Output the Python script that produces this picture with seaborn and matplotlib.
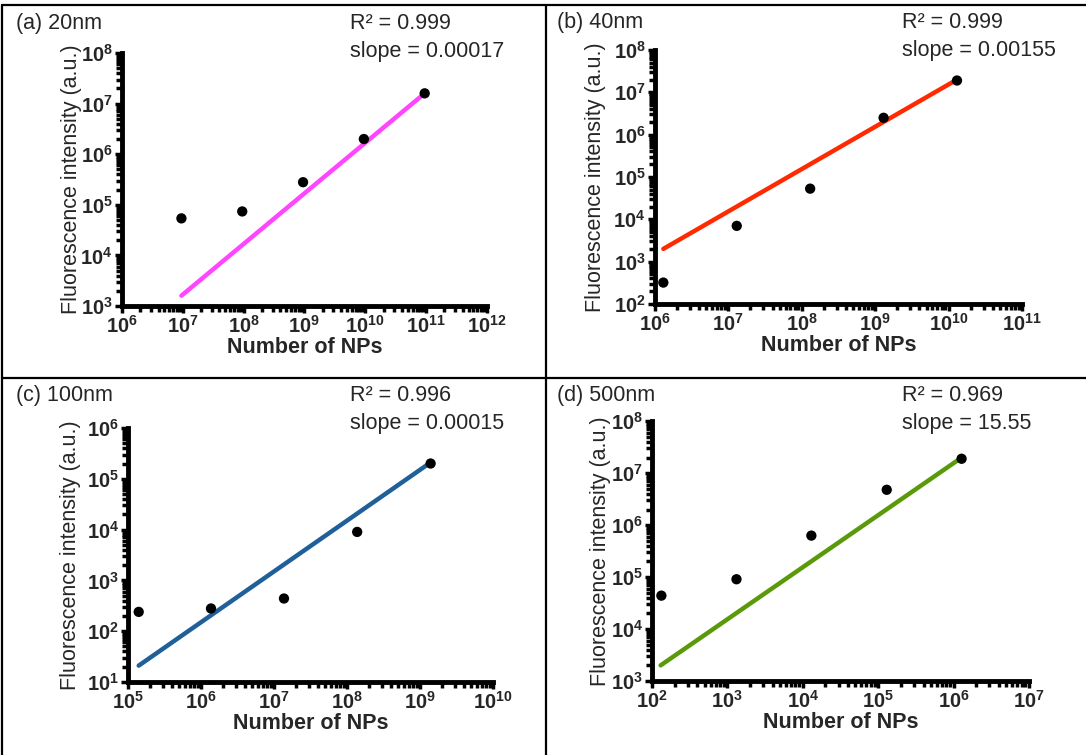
import matplotlib
matplotlib.use("Agg")
import matplotlib.pyplot as plt
from matplotlib.lines import Line2D
from matplotlib.ticker import LogLocator, NullFormatter
import seaborn as sns
import numpy as np

# panel data (number of NPs vs fluorescence intensity)
x_20 = [9.5e6, 9.5e7, 9.5e8, 9.5e9, 9.5e10]
y_20 = [5.4e4, 7.4e4, 2.8e5, 2.0e6, 1.6e7]
fit_x_20 = [9.5e6, 9.5e10]
fit_y_20 = [1.6e3, 1.6e7]

x_40 = [1.3e6, 1.3e7, 1.3e8, 1.3e9, 1.3e10]
y_40 = [3.2e2, 7.0e3, 5.3e4, 2.5e6, 1.9e7]
fit_x_40 = [1.3e6, 1.3e10]
fit_y_40 = [2.0e3, 2.0e7]

x_100 = [1.4e5, 1.37e6, 1.37e7, 1.38e8, 1.4e9]
y_100 = [2.4e2, 2.8e2, 4.4e2, 9.0e3, 2.0e5]
fit_x_100 = [1.4e5, 1.4e9]
fit_y_100 = [21, 2.1e5]

x_500 = [1.33e2, 1.32e3, 1.3e4, 1.3e5, 1.28e6]
y_500 = [4.4e4, 9.1e4, 6.3e5, 4.8e6, 1.9e7]
fit_x_500 = [1.3e2, 1.28e6]
fit_y_500 = [2.0e3, 2.0e7]

titles = ["(a) 20nm", "(b) 40nm", "(c) 100nm", "(d) 500nm"]
r2_labels = ["R\u00b2 = 0.999", "R\u00b2 = 0.999", "R\u00b2 = 0.996", "R\u00b2 = 0.969"]
slope_labels = ["slope = 0.00017", "slope = 0.00155", "slope = 0.00015", "slope = 15.55"]
xlims = [(1e6, 1e12), (1e6, 1e11), (1e5, 1e10), (1e2, 1e7)]
ylims = [(1e3, 1e8), (1e2, 1e8), (1e1, 1e6), (1e3, 1e8)]
line_colors = ["#FF45FF", "#FF2A00", "#1F5F9A", "#5A9A0A"]


def main():
    sns.set_theme(style="ticks")
    plt.rcParams["font.family"] = ["Liberation Sans", "DejaVu Sans"]

    fig = plt.figure(figsize=(10.86, 7.55), dpi=100)

    boxes = [
        [0.1123, 0.5947, 0.336, 0.335],
        [0.6031, 0.5974, 0.338, 0.3364],
        [0.1179, 0.0967, 0.336, 0.3364],
        [0.6004, 0.0980, 0.347, 0.344],
    ]
    xs = [x_20, x_40, x_100, x_500]
    ys = [y_20, y_40, y_100, y_500]
    fxs = [fit_x_20, fit_x_40, fit_x_100, fit_x_500]
    fys = [fit_y_20, fit_y_40, fit_y_100, fit_y_500]
    # ylabel horizontal offset (axes fraction) so labels sit where the reference has them
    ylab_x = [-0.11, -0.134, -0.129, -0.109]

    for i in range(4):
        ax = fig.add_axes(boxes[i])
        sns.lineplot(x=fxs[i], y=fys[i], ax=ax, color=line_colors[i],
                     linewidth=3.2, zorder=2)
        sns.scatterplot(x=xs[i], y=ys[i], ax=ax, color="black", s=55,
                        edgecolor="none", zorder=3, clip_on=False)
        ax.set_xscale("log")
        ax.set_yscale("log")
        ax.set_xlim(*xlims[i])
        ax.set_ylim(*ylims[i])
        for axis in (ax.xaxis, ax.yaxis):
            axis.set_major_locator(LogLocator(base=10, numticks=20))
            axis.set_minor_locator(LogLocator(base=10, subs=np.arange(2, 10), numticks=200))
            axis.set_minor_formatter(NullFormatter())
        sns.despine(ax=ax)
        for side in ("left", "bottom"):
            ax.spines[side].set_linewidth(3.5)
            ax.spines[side].set_color("black")
        ax.tick_params(which="major", direction="out", length=5, width=2.5,
                       color="black", labelsize=14.5, pad=1.5)
        ax.tick_params(which="minor", direction="out", length=4, width=2.5,
                       color="black")
        for lab in ax.get_xticklabels() + ax.get_yticklabels():
            lab.set_fontweight("bold")
        ax.set_xlabel("Number of NPs", fontsize=15.5, fontweight="bold", labelpad=0)
        ax.set_ylabel("Fluorescence intensity (a.u.)", fontsize=15.5)
        ax.yaxis.set_label_coords(ylab_x[i], 0.5)
        ax.set_facecolor("white")

    # panel titles and fit annotations
    left_x = [0.0147, 0.5129, 0.0147, 0.5129]
    ann_x = [0.3223, 0.8306, 0.3223, 0.8306]
    base_y = [0.9616, 0.9629, 0.4689, 0.4689]
    for i in range(4):
        fig.text(left_x[i], base_y[i], titles[i], fontsize=15.5, va="baseline")
        fig.text(ann_x[i], base_y[i], r2_labels[i], fontsize=15.5, va="baseline")
        fig.text(ann_x[i], base_y[i] - 0.037, slope_labels[i], fontsize=15.5,
                 va="baseline")

    # table-style frame lines
    lw = 1.6
    fig.add_artist(Line2D([0.0018, 1.0], [0.9934, 0.9934], color="black", lw=lw,
                          transform=fig.transFigure))
    fig.add_artist(Line2D([0.0018, 0.0018], [0.0, 0.9934], color="black", lw=lw,
                          transform=fig.transFigure))
    fig.add_artist(Line2D([0.5028, 0.5028], [0.0, 0.9934], color="black", lw=lw,
                          transform=fig.transFigure))
    fig.add_artist(Line2D([0.0018, 1.0], [0.4993, 0.4993], color="black", lw=lw,
                          transform=fig.transFigure))

    fig.savefig("out.png", dpi=100, facecolor="white")


if __name__ == "__main__":
    main()
